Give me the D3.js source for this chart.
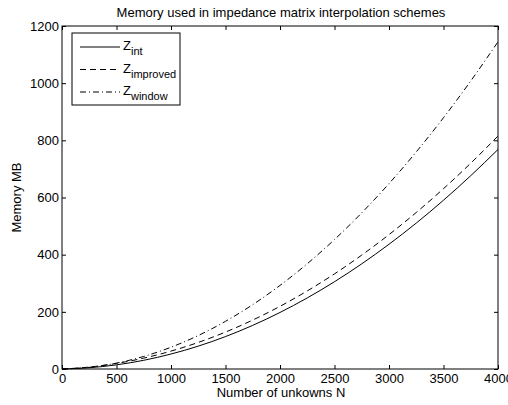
<!DOCTYPE html>
<html>
<head>
<meta charset="utf-8">
<script src="https://cdn.jsdelivr.net/npm/d3@7"></script>
<style>
  body { margin: 0; background: #fff; }
  svg { display: block; font-family: "Liberation Sans", Arial, sans-serif; }
</style>
</head>
<body>
<script>
// unknowns N and memory in MB for each interpolation scheme
var nValues = [0, 250, 500, 750, 1000, 1250, 1500, 1750, 2000, 2250, 2500, 2750, 3000, 3250, 3500, 3750, 4000];
var zInt = [0, 4.4, 14.5, 30.5, 52.4, 80.0, 113.4, 152.7, 197.8, 248.7, 305.4, 368.0, 436.4, 510.5, 590.5, 676.4, 768.0];
var zImproved = [0, 6.8, 19.5, 38.1, 62.6, 92.9, 129.2, 171.3, 219.3, 273.2, 332.9, 398.6, 470.1, 547.6, 630.9, 720.0, 815.1];
var zWindow = [0, 5.9, 20.6, 44.0, 76.2, 117.1, 166.8, 225.2, 292.4, 368.3, 453.0, 546.4, 648.6, 759.5, 879.2, 1007.6, 1144.8];
var xTicks = [0, 500, 1000, 1500, 2000, 2500, 3000, 3500, 4000];
var yTicks = [0, 200, 400, 600, 800, 1000, 1200];

var series = [
  {base: "Z", sub: "int", values: zInt, dash: null},
  {base: "Z", sub: "improved", values: zImproved, dash: "6,4"},
  {base: "Z", sub: "window", values: zWindow, dash: "6,3,1,3"}
];

var W = 508, H = 405;
var m = {left: 62, right: 10, top: 26, bottom: 36};
var iw = W - m.left - m.right, ih = H - m.top - m.bottom;

var svg = d3.select("body").append("svg").attr("width", W).attr("height", H);
var g = svg.append("g").attr("transform", "translate(" + m.left + "," + m.top + ")");

var x = d3.scaleLinear().domain([0, 4000]).range([0, iw]);
var y = d3.scaleLinear().domain([0, 1200]).range([ih, 0]);

// curves
var line = d3.line()
  .x(function (d, i) { return x(nValues[i]); })
  .y(function (d) { return y(d); })
  .curve(d3.curveMonotoneX);

g.selectAll("path.curve").data(series).enter().append("path")
  .attr("class", "curve")
  .attr("d", function (s) { return line(s.values); })
  .attr("fill", "none")
  .attr("stroke", "#000")
  .attr("stroke-width", 1)
  .attr("stroke-dasharray", function (s) { return s.dash; });

// axes: ticks point inward, mirrored on top and right
function styleAxis(sel) {
  sel.selectAll(".domain").remove();
  sel.selectAll("line").attr("stroke", "#000");
  sel.selectAll("text").attr("font-size", 13).attr("fill", "#000")
    .attr("font-family", "Liberation Sans, Arial, sans-serif");
}
g.append("g").attr("transform", "translate(0," + ih + ")")
  .call(d3.axisBottom(x).tickValues(xTicks).tickSizeInner(-4).tickSizeOuter(0).tickPadding(5).tickFormat(d3.format("d")))
  .call(styleAxis);
g.append("g")
  .call(d3.axisTop(x).tickValues(xTicks).tickSizeInner(-4).tickSizeOuter(0).tickFormat(""))
  .call(styleAxis);
g.append("g")
  .call(d3.axisLeft(y).tickValues(yTicks).tickSizeInner(-4).tickSizeOuter(0).tickPadding(3).tickFormat(d3.format("d")))
  .call(styleAxis);
g.append("g").attr("transform", "translate(" + iw + ",0)")
  .call(d3.axisRight(y).tickValues(yTicks).tickSizeInner(-4).tickSizeOuter(0).tickFormat(""))
  .call(styleAxis);

g.append("rect").attr("width", iw).attr("height", ih)
  .attr("fill", "none").attr("stroke", "#000").attr("stroke-width", 1);

// titles
svg.append("text").attr("x", 281).attr("y", 17)
  .attr("text-anchor", "middle").attr("font-size", 13).text("Memory used in impedance matrix interpolation schemes");
svg.append("text").attr("x", 281).attr("y", 397)
  .attr("text-anchor", "middle").attr("font-size", 13).text("Number of unkowns N");
svg.append("text").attr("transform", "translate(21," + (m.top + ih / 2) + ") rotate(-90)")
  .attr("text-anchor", "middle").attr("font-size", 13).text("Memory MB");

// legend
var lg = svg.append("g").attr("transform", "translate(72,33)");
lg.append("rect").attr("width", 108).attr("height", 72)
  .attr("fill", "#fff").attr("stroke", "#000").attr("stroke-width", 1);
var items = lg.selectAll("g.item").data(series).enter().append("g")
  .attr("class", "item")
  .attr("transform", function (d, i) { return "translate(0," + (14 + i * 22.5) + ")"; });
items.append("line").attr("x1", 8).attr("x2", 48).attr("y1", 0).attr("y2", 0)
  .attr("stroke", "#000").attr("stroke-dasharray", function (d) { return d.dash; });
var t = items.append("text").attr("x", 51).attr("y", 3).attr("font-size", 13);
t.append("tspan").text(function (d) { return d.base; });
t.append("tspan").attr("dy", 5).attr("font-size", 11).text(function (d) { return d.sub; });
</script>
</body>
</html>
